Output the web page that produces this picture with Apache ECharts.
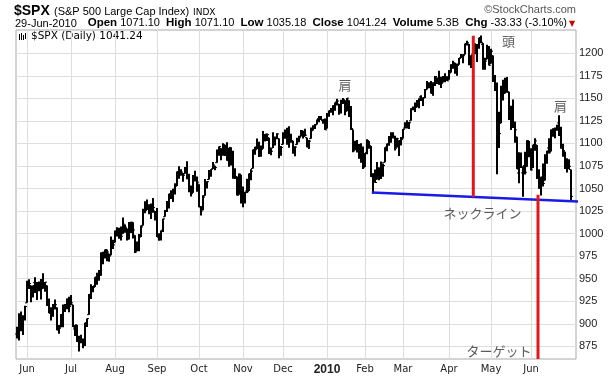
<!DOCTYPE html>
<html><head><meta charset="utf-8">
<script src="https://cdn.jsdelivr.net/npm/echarts@6/dist/echarts.min.js"></script>
<style>html,body{margin:0;padding:0;background:#fff}#c{width:610px;height:390px}</style>
</head><body><div id="c"></div>
<script>
// ---- data ----
const dates = [
'2009-05-22','2009-05-26','2009-05-27','2009-05-28','2009-05-29',
'2009-06-01','2009-06-02','2009-06-03','2009-06-04','2009-06-05','2009-06-08','2009-06-09','2009-06-10','2009-06-11','2009-06-12','2009-06-15','2009-06-16','2009-06-17','2009-06-18','2009-06-19','2009-06-22','2009-06-23','2009-06-24','2009-06-25','2009-06-26','2009-06-29','2009-06-30',
'2009-07-01','2009-07-02','2009-07-06','2009-07-07','2009-07-08','2009-07-09','2009-07-10','2009-07-13','2009-07-14','2009-07-15','2009-07-16','2009-07-17','2009-07-20','2009-07-21','2009-07-22','2009-07-23','2009-07-24','2009-07-27','2009-07-28','2009-07-29','2009-07-30','2009-07-31',
'2009-08-03','2009-08-04','2009-08-05','2009-08-06','2009-08-07','2009-08-10','2009-08-11','2009-08-12','2009-08-13','2009-08-14','2009-08-17','2009-08-18','2009-08-19','2009-08-20','2009-08-21','2009-08-24','2009-08-25','2009-08-26','2009-08-27','2009-08-28','2009-08-31',
'2009-09-01','2009-09-02','2009-09-03','2009-09-04','2009-09-08','2009-09-09','2009-09-10','2009-09-11','2009-09-14','2009-09-15','2009-09-16','2009-09-17','2009-09-18','2009-09-21','2009-09-22','2009-09-23','2009-09-24','2009-09-25','2009-09-28','2009-09-29','2009-09-30',
'2009-10-01','2009-10-02','2009-10-05','2009-10-06','2009-10-07','2009-10-08','2009-10-09','2009-10-12','2009-10-13','2009-10-14','2009-10-15','2009-10-16','2009-10-19','2009-10-20','2009-10-21','2009-10-22','2009-10-23','2009-10-26','2009-10-27','2009-10-28','2009-10-29','2009-10-30',
'2009-11-02','2009-11-03','2009-11-04','2009-11-05','2009-11-06','2009-11-09','2009-11-10','2009-11-11','2009-11-12','2009-11-13','2009-11-16','2009-11-17','2009-11-18','2009-11-19','2009-11-20','2009-11-23','2009-11-24','2009-11-25','2009-11-27','2009-11-30',
'2009-12-01','2009-12-02','2009-12-03','2009-12-04','2009-12-07','2009-12-08','2009-12-09','2009-12-10','2009-12-11','2009-12-14','2009-12-15','2009-12-16','2009-12-17','2009-12-18','2009-12-21','2009-12-22','2009-12-23','2009-12-24','2009-12-28','2009-12-29','2009-12-30','2009-12-31',
'2010-01-04','2010-01-05','2010-01-06','2010-01-07','2010-01-08','2010-01-11','2010-01-12','2010-01-13','2010-01-14','2010-01-15','2010-01-19','2010-01-20','2010-01-21','2010-01-22','2010-01-25','2010-01-26','2010-01-27','2010-01-28','2010-01-29',
'2010-02-01','2010-02-02','2010-02-03','2010-02-04','2010-02-05','2010-02-08','2010-02-09','2010-02-10','2010-02-11','2010-02-12','2010-02-16','2010-02-17','2010-02-18','2010-02-19','2010-02-22','2010-02-23','2010-02-24','2010-02-25','2010-02-26',
'2010-03-01','2010-03-02','2010-03-03','2010-03-04','2010-03-05','2010-03-08','2010-03-09','2010-03-10','2010-03-11','2010-03-12','2010-03-15','2010-03-16','2010-03-17','2010-03-18','2010-03-19','2010-03-22','2010-03-23','2010-03-24','2010-03-25','2010-03-26','2010-03-29','2010-03-30','2010-03-31',
'2010-04-01','2010-04-05','2010-04-06','2010-04-07','2010-04-08','2010-04-09','2010-04-12','2010-04-13','2010-04-14','2010-04-15','2010-04-16','2010-04-19','2010-04-20','2010-04-21','2010-04-22','2010-04-23','2010-04-26','2010-04-27','2010-04-28','2010-04-29','2010-04-30',
'2010-05-03','2010-05-04','2010-05-05','2010-05-06','2010-05-07','2010-05-10','2010-05-11','2010-05-12','2010-05-13','2010-05-14','2010-05-17','2010-05-18','2010-05-19','2010-05-20','2010-05-21','2010-05-24','2010-05-25','2010-05-26','2010-05-27','2010-05-28',
'2010-06-01','2010-06-02','2010-06-03','2010-06-04','2010-06-07','2010-06-08','2010-06-09','2010-06-10','2010-06-11','2010-06-14','2010-06-15','2010-06-16','2010-06-17','2010-06-18','2010-06-21','2010-06-22','2010-06-23','2010-06-24','2010-06-25','2010-06-28','2010-06-29'
];
const opens = [
888.7,887.0,909.9,892.9,907.0,
923.3,942.9,942.5,932.5,945.7,938.1,940.4,942.7,939.0,943.4,942.5,925.6,911.9,910.9,920.0,918.1,893.5,896.3,899.5,918.8,919.9,927.2,
920.8,921.2,894.3,898.6,881.9,881.3,880.0,879.6,900.8,910.2,930.2,940.6,942.1,952.0,953.4,954.1,972.2,978.6,981.5,977.7,976.0,986.8,
990.2,1001.4,1005.4,1004.1,999.8,1008.9,1005.8,994.0,1005.9,1012.2,998.2,980.6,986.9,996.4,1009.1,1026.6,1026.6,1027.4,1027.8,1031.6,1025.2,
1019.5,996.1,996.1,1003.8,1018.7,1025.4,1033.0,1043.9,1040.2,1049.0,1054.0,1067.9,1066.6,1067.1,1066.4,1072.7,1062.6,1049.5,1045.4,1063.7,1061.0,
1054.9,1029.7,1026.9,1042.0,1053.7,1060.0,1065.3,1071.6,1075.0,1078.7,1090.4,1094.7,1088.2,1098.6,1092.4,1081.0,1095.6,1080.4,1067.5,1061.5,1043.2,1065.4,
1036.2,1040.9,1047.3,1047.3,1065.0,1072.3,1091.9,1096.0,1098.3,1087.6,1094.1,1109.2,1109.4,1106.4,1094.7,1094.9,1105.8,1106.5,1105.5,1091.1,
1098.9,1109.0,1110.6,1100.3,1105.5,1103.0,1091.1,1098.7,1104.0,1107.8,1114.1,1108.6,1106.4,1097.9,1105.3,1114.5,1118.8,1121.1,1127.5,1128.6,1125.5,1126.6,
1116.6,1133.0,1135.7,1136.3,1140.5,1146.0,1143.8,1137.3,1145.7,1147.7,1136.0,1148.0,1138.7,1115.5,1092.4,1095.8,1091.9,1096.9,1087.6,
1073.9,1090.1,1100.7,1097.3,1064.1,1065.5,1060.1,1069.7,1067.1,1076.0,1079.1,1096.1,1099.0,1105.5,1110.0,1107.5,1095.9,1101.4,1103.1,
1105.4,1117.0,1119.4,1119.1,1125.1,1138.4,1137.6,1140.2,1144.0,1151.7,1148.5,1150.8,1159.9,1166.1,1166.7,1155.4,1166.5,1172.7,1170.0,1167.6,1167.7,1173.8,1171.8,
1171.2,1178.7,1186.0,1188.2,1181.8,1187.5,1194.9,1195.9,1198.7,1210.8,1210.2,1192.1,1199.0,1207.2,1202.5,1207.9,1217.1,1209.9,1184.6,1193.3,1206.8,
1188.6,1197.5,1169.2,1164.4,1127.0,1122.3,1156.4,1155.4,1170.0,1157.2,1136.5,1138.8,1119.6,1107.3,1067.3,1084.8,1067.4,1075.5,1074.3,1102.6,
1087.3,1073.0,1098.8,1098.4,1065.8,1050.8,1062.8,1058.8,1082.7,1095.0,1091.2,1114.0,1116.0,1116.2,1122.8,1113.9,1095.6,1090.9,1075.1,1077.5,1071.1
];
const highs = [
896.7,911.8,913.8,909.5,920.0,
947.8,949.4,942.5,942.5,951.7,946.3,946.9,949.8,956.2,946.3,942.5,928.0,918.4,921.9,927.1,918.1,898.7,910.9,921.4,922.0,928.0,930.0,
931.9,921.2,898.7,898.6,886.8,887.9,883.6,901.1,905.8,933.0,944.0,941.9,951.6,956.5,959.8,979.4,979.8,982.5,982.4,977.8,996.7,993.2,
1003.6,1007.1,1006.6,1008.0,1018.0,1010.1,1005.8,1012.8,1013.1,1012.6,998.2,991.2,999.6,1008.9,1027.6,1035.8,1037.8,1032.5,1033.3,1039.5,1025.2,
1028.5,1000.3,1003.4,1016.5,1026.1,1036.3,1044.1,1048.2,1049.7,1056.0,1068.8,1074.8,1071.5,1067.3,1073.8,1080.2,1066.3,1053.5,1065.1,1069.6,1063.4,
1054.9,1030.6,1042.6,1060.6,1058.0,1070.7,1071.5,1079.5,1075.3,1093.2,1096.6,1094.7,1100.2,1098.6,1101.4,1095.2,1095.8,1091.8,1072.5,1063.3,1066.8,1065.4,
1052.2,1046.4,1061.0,1066.7,1071.5,1093.2,1096.4,1105.4,1102.0,1097.8,1113.7,1110.5,1111.1,1106.4,1094.7,1112.4,1107.6,1111.2,1105.5,1097.2,
1112.3,1115.6,1117.3,1119.1,1110.7,1103.0,1097.0,1106.3,1108.5,1114.8,1114.1,1116.2,1106.4,1103.7,1117.7,1120.3,1121.6,1126.5,1130.4,1130.4,1126.4,1127.6,
1133.9,1136.6,1139.2,1142.5,1145.4,1149.7,1143.8,1148.4,1150.4,1147.8,1150.5,1148.0,1141.6,1115.5,1103.0,1103.7,1099.5,1100.2,1096.5,
1089.4,1104.7,1102.7,1097.3,1067.1,1071.2,1079.3,1073.7,1080.0,1077.8,1095.7,1100.0,1108.2,1112.4,1112.3,1108.6,1106.4,1103.5,1107.2,
1116.1,1123.5,1125.6,1123.7,1139.0,1141.1,1145.4,1148.3,1150.2,1153.4,1151.0,1160.3,1169.2,1167.8,1169.2,1167.8,1174.7,1173.0,1180.7,1173.9,1174.9,1177.8,1174.6,
1181.4,1187.7,1191.8,1189.6,1188.6,1194.7,1199.2,1199.0,1210.7,1213.9,1210.2,1197.9,1208.6,1211.0,1210.3,1217.3,1219.8,1211.4,1195.1,1209.4,1208.0,
1205.1,1197.5,1176.0,1167.6,1135.1,1163.9,1170.5,1172.9,1173.6,1157.2,1141.9,1148.7,1124.3,1107.3,1090.2,1090.0,1074.8,1090.8,1103.5,1102.6,
1094.8,1098.6,1105.7,1098.4,1071.4,1063.2,1077.7,1087.9,1092.0,1105.9,1115.6,1116.9,1117.7,1120.7,1131.2,1118.5,1099.6,1090.9,1083.6,1082.6,1071.1
];
const lows = [
883.8,881.5,891.9,887.6,903.6,
923.3,938.5,923.9,929.3,934.1,926.4,936.2,927.0,939.0,935.7,919.7,911.6,903.8,907.9,915.8,893.0,888.9,896.3,896.3,913.0,916.2,912.9,
920.8,896.4,886.4,879.9,869.3,878.5,872.8,875.3,896.5,910.2,927.4,934.9,940.9,943.2,947.9,953.3,966.0,972.3,969.4,968.7,976.0,982.9,
990.2,996.7,994.3,992.5,999.8,1001.0,992.4,993.4,1000.8,994.6,978.5,980.6,980.6,996.4,1009.1,1022.5,1026.2,1021.6,1016.2,1023.1,1014.6,
996.3,992.0,992.3,1001.7,1018.7,1024.0,1028.0,1038.4,1035.0,1043.4,1052.9,1061.0,1064.3,1057.5,1066.4,1060.4,1045.9,1041.2,1045.4,1057.8,1046.5,
1029.4,1020.0,1025.9,1042.0,1050.1,1060.0,1063.0,1071.6,1070.2,1078.7,1086.4,1081.5,1086.5,1086.2,1080.9,1074.3,1075.5,1061.0,1060.6,1042.2,1043.2,1033.4,
1029.4,1033.4,1045.2,1047.3,1059.3,1072.3,1087.4,1093.5,1084.9,1085.3,1094.1,1102.2,1102.7,1088.4,1086.8,1094.9,1097.6,1104.8,1083.7,1086.3,
1098.9,1105.3,1098.7,1095.3,1100.8,1088.6,1085.9,1098.7,1101.3,1107.8,1105.4,1108.0,1095.9,1093.9,1105.3,1114.5,1116.0,1121.1,1123.5,1126.1,1121.9,1114.8,
1116.6,1129.7,1134.0,1131.3,1136.2,1142.0,1131.8,1133.2,1143.8,1131.4,1135.8,1129.3,1114.8,1090.2,1092.4,1089.9,1083.1,1078.5,1071.6,
1073.9,1088.0,1094.0,1062.8,1044.5,1056.5,1060.1,1059.3,1060.6,1063.0,1079.1,1091.4,1097.5,1100.8,1105.4,1092.2,1095.5,1086.0,1097.6,
1105.4,1116.5,1116.6,1116.1,1125.1,1136.8,1134.9,1140.1,1139.0,1147.0,1141.5,1150.4,1159.9,1161.2,1155.3,1152.9,1163.8,1166.0,1165.1,1161.5,1167.7,1168.0,1169.3,
1170.7,1178.7,1182.8,1177.3,1175.1,1187.2,1194.7,1188.8,1198.7,1208.5,1186.8,1183.7,1199.0,1198.9,1190.2,1205.1,1211.1,1181.6,1181.8,1193.3,1186.3,
1188.6,1168.1,1158.2,1065.8,1095.0,1122.3,1147.7,1155.4,1156.1,1126.1,1115.0,1117.2,1100.7,1071.6,1055.9,1072.7,1040.8,1065.6,1074.3,1084.8,
1069.9,1072.9,1091.8,1060.5,1049.9,1042.2,1052.3,1058.8,1077.5,1089.0,1091.2,1107.4,1105.9,1114.0,1108.2,1094.2,1085.3,1071.6,1067.9,1071.4,1035.2
];
const closes = [
887.0,910.3,893.1,906.8,919.1,
942.9,944.7,931.8,942.5,940.1,939.1,942.4,939.2,944.9,946.2,923.7,912.0,910.7,918.4,921.2,893.0,895.1,900.9,920.3,918.9,927.2,919.3,
923.3,896.4,898.7,881.0,879.6,882.7,879.1,901.1,905.8,932.7,940.7,940.4,951.1,954.6,954.1,976.3,979.3,982.2,979.6,975.2,986.8,987.5,
1002.6,1005.7,1002.7,997.1,1010.5,1007.1,994.4,1005.8,1012.7,1004.1,979.7,989.7,996.5,1007.4,1026.1,1025.6,1028.0,1028.1,1031.0,1028.9,1020.6,
998.0,994.8,1003.2,1016.4,1025.4,1033.4,1044.1,1042.7,1049.3,1052.6,1068.8,1065.5,1068.3,1064.7,1071.7,1060.9,1050.8,1044.4,1063.0,1060.6,1057.1,
1029.9,1025.2,1040.5,1054.7,1057.6,1065.5,1071.5,1076.2,1073.2,1092.0,1096.6,1087.7,1097.9,1091.1,1081.4,1092.9,1079.6,1067.0,1063.4,1042.6,1066.1,1036.2,
1042.9,1045.4,1046.5,1066.6,1069.3,1093.1,1093.0,1098.5,1087.2,1093.5,1109.3,1110.3,1109.8,1094.9,1091.4,1106.2,1105.7,1110.6,1091.5,1095.6,
1108.9,1109.2,1099.9,1106.0,1103.3,1091.9,1096.0,1102.4,1106.4,1114.1,1107.9,1109.2,1096.1,1102.5,1114.1,1118.0,1120.6,1126.5,1127.8,1126.2,1126.4,1115.1,
1133.0,1136.5,1137.1,1141.7,1145.0,1147.0,1136.2,1145.7,1148.5,1136.0,1150.2,1138.0,1116.5,1091.8,1096.8,1092.2,1097.5,1084.5,1073.9,
1089.2,1103.3,1097.3,1063.1,1066.2,1056.7,1070.5,1068.1,1078.5,1075.5,1094.9,1099.5,1106.8,1109.2,1108.0,1094.6,1105.2,1102.9,1104.5,
1115.7,1118.3,1118.8,1123.0,1138.7,1138.5,1140.4,1145.6,1150.2,1150.0,1150.5,1159.5,1166.2,1165.8,1159.9,1165.8,1174.2,1167.7,1165.7,1166.6,1173.2,1173.3,1169.4,
1178.1,1187.4,1189.4,1182.4,1186.4,1194.4,1196.5,1197.3,1210.7,1211.7,1192.1,1197.5,1207.2,1205.9,1208.7,1217.3,1212.1,1183.7,1191.4,1206.8,1186.7,
1202.3,1173.6,1165.9,1128.2,1110.9,1159.7,1155.8,1171.7,1157.4,1135.7,1136.9,1120.8,1115.1,1071.6,1087.7,1073.7,1074.0,1068.0,1103.1,1089.4,
1070.7,1098.4,1102.8,1064.9,1050.5,1062.0,1055.7,1086.8,1091.6,1089.6,1115.2,1114.6,1116.0,1117.5,1113.2,1095.3,1092.0,1073.7,1076.8,1074.6,1041.2
];
const padSlots = ['', ' '];           // empty slots after the last bar
const yTicks = [875,900,925,950,975,1000,1025,1050,1075,1100,1125,1150,1175,1200];
const monthLabels = ['Jun','Jul','Aug','Sep','Oct','Nov','Dec','2010','Feb','Mar','Apr','May','Jun'];
// annotation lines (x in bar-slot units, y in index points)
const necklineX = [177.4, 284.9];
const necklineY = [1045.5, 1035.2];
const headLineX = [228.15, 228.15];
const headLineY = [1219.5, 1040.6];
const targetLineX = [260.5, 260.5];
const targetLineY = [1043.0, 861.0];
const noteText = ['肩', '頭', '肩', 'ネックライン', 'ターゲット'];
const noteX = [164.0, 245.8, 271.8, 232.8, 241.0];
const noteY = [1165.0, 1213.0, 1141.6, 1022.4, 870.0];

// ---- build ----
const categories = dates.concat(padSlots);
const labelAt = {};
{
  let k = 0;
  for (let i = 1; i < dates.length; i++) {
    if (dates[i].slice(0, 7) !== dates[i - 1].slice(0, 7)) { labelAt[i] = monthLabels[k++]; }
  }
}
const isMonthStart = (idx) => labelAt[idx] !== undefined;
const ohlc = dates.map((d, i) => [i, opens[i], highs[i], lows[i], closes[i]]);
const xyPairs = (xs, ys) => xs.map((x, i) => [x, ys[i]]);

const chart = echarts.init(document.getElementById('c'), null, {renderer: 'canvas'});
const FONT = "'Liberation Sans', Arial, sans-serif";
chart.setOption({
  animation: false,
  backgroundColor: '#fff',
  grid: {left: 16, right: 34, top: 30, bottom: 31, show: true, borderColor: '#a8a8a8', borderWidth: 1, backgroundColor: '#fff'},
  xAxis: [{
    type: 'category', data: categories, boundaryGap: true,
    axisLine: {show: false}, axisTick: {show: false},
    axisLabel: {
      interval: (idx) => isMonthStart(idx), margin: 5,
      fontFamily: "'DejaVu Sans', sans-serif", fontSize: 10, color: '#222',
      formatter: (v, idx) => { const t = labelAt[idx]; return t === '2010' ? '{y|2010}' : (t || ''); },
      rich: {y: {fontFamily: FONT, fontWeight: 'bold', fontSize: 12, color: '#222'}}
    },
    splitLine: {show: true, interval: (idx) => isMonthStart(idx), alignWithLabel: true, lineStyle: {color: '#dedede', width: 1}}
  }, {
    type: 'value', min: -0.5, max: categories.length - 0.5, show: false
  }],
  yAxis: {
    type: 'value', position: 'right', min: 861, max: 1225.8, scale: true,
    axisLine: {show: false},
    axisTick: {show: false, customValues: yTicks},
    axisLabel: {customValues: yTicks, margin: 3, fontFamily: FONT, fontSize: 11, color: '#222', formatter: (v) => String(v)},
    splitLine: {show: true, lineStyle: {color: '#dedede', width: 1}}
  },
  graphic: [
    {type: 'text', x: 14, y: 18, style: {text: '$SPX', font: "bold 14px 'Liberation Sans', Arial, sans-serif", fill: '#000', verticalAlign: 'bottom', textVerticalAlign: 'bottom'}},
    {type: 'text', x: 54, y: 17, style: {text: '(S&P 500 Large Cap Index)', font: "11px 'Liberation Sans', Arial, sans-serif", fill: '#000', verticalAlign: 'bottom', textVerticalAlign: 'bottom'}},
    {type: 'text', x: 193, y: 17, style: {text: 'INDX', font: "9px 'DejaVu Sans', sans-serif", fill: '#000', verticalAlign: 'bottom', textVerticalAlign: 'bottom'}},
    {type: 'text', right: 34, top: 4, style: {text: '©StockCharts.com', font: "11px 'Liberation Sans', Arial, sans-serif", fill: '#555'}},
    {type: 'text', left: 15, top: 18, style: {text: '29-Jun-2010', font: "11px 'Liberation Sans', Arial, sans-serif", fill: '#000'}},
    {type: 'text', right: 43, top: 17, style: {text: '{b|Open} 1071.10  {b|High} 1071.10  {b|Low} 1035.18  {b|Close} 1041.24  {b|Volume} 5.3B  {b|Chg} -33.33 (-3.10%)',
      fontFamily: FONT, fontSize: 11, fill: '#000', rich: {b: {fontFamily: FONT, fontWeight: 'bold', fontSize: 11.5, fill: '#000'}}}},
    {type: 'text', left: 569, top: 20, style: {text: '▼', font: "8px 'DejaVu Sans', sans-serif", fill: '#c00'}},
    {type: 'group', left: 19, top: 33, children: [
      {type: 'rect', shape: {x: 0, y: 1, width: 1, height: 6}, style: {fill: '#000'}},
      {type: 'rect', shape: {x: 2, y: 0, width: 1, height: 7}, style: {fill: '#000'}},
      {type: 'rect', shape: {x: 4, y: 2, width: 1, height: 5}, style: {fill: '#000'}},
      {type: 'rect', shape: {x: 6, y: 0, width: 1, height: 6}, style: {fill: '#000'}},
      {type: 'rect', shape: {x: 8, y: 1, width: 1, height: 6}, style: {fill: '#000'}}
    ]},
    {type: 'text', left: 31, top: 31, style: {text: '$SPX (Daily) 1041.24', font: "10.5px 'DejaVu Sans', sans-serif", fill: '#000'}}
  ],
  series: [
    {
      type: 'custom', name: '$SPX', xAxisIndex: 0, yAxisIndex: 0,
      data: ohlc, encode: {x: 0, y: [1, 2, 3, 4]}, silent: true,
      renderItem: function (params, api) {
        const i = api.value(0);
        const o = api.coord([i, api.value(1)]);
        const h = api.coord([i, api.value(2)]);
        const l = api.coord([i, api.value(3)]);
        const c = api.coord([i, api.value(4)]);
        const x = Math.round(h[0]);
        return {type: 'group', children: [
          {type: 'line', shape: {x1: x, y1: h[1], x2: x, y2: l[1]}, style: {stroke: '#000', lineWidth: 2}},
          {type: 'line', shape: {x1: x - 2, y1: o[1], x2: x, y2: o[1]}, style: {stroke: '#000', lineWidth: 1}},
          {type: 'line', shape: {x1: x, y1: c[1], x2: x + 2, y2: c[1]}, style: {stroke: '#000', lineWidth: 1}}
        ]};
      }
    },
    {type: 'line', xAxisIndex: 1, data: xyPairs(necklineX, necklineY), symbol: 'none', clip: false, silent: true, z: 5,
      lineStyle: {color: '#1a1ae6', width: 2.5}},
    {type: 'line', xAxisIndex: 1, data: xyPairs(headLineX, headLineY), symbol: 'none', silent: true, z: 6,
      lineStyle: {color: '#e01818', width: 3}},
    {type: 'line', xAxisIndex: 1, data: xyPairs(targetLineX, targetLineY), symbol: 'none', silent: true, z: 6,
      lineStyle: {color: '#e01818', width: 3}},
    {type: 'scatter', xAxisIndex: 1, data: noteX.map((x, i) => [x, noteY[i], noteText[i]]), symbolSize: 1, silent: true, z: 7,
      itemStyle: {color: 'rgba(0,0,0,0)'},
      label: {show: true, position: 'inside', formatter: (p) => p.data[2], fontFamily: "'Noto Sans CJK JP', sans-serif", fontSize: 13, color: '#333'}}
  ]
});
</script></body></html>
